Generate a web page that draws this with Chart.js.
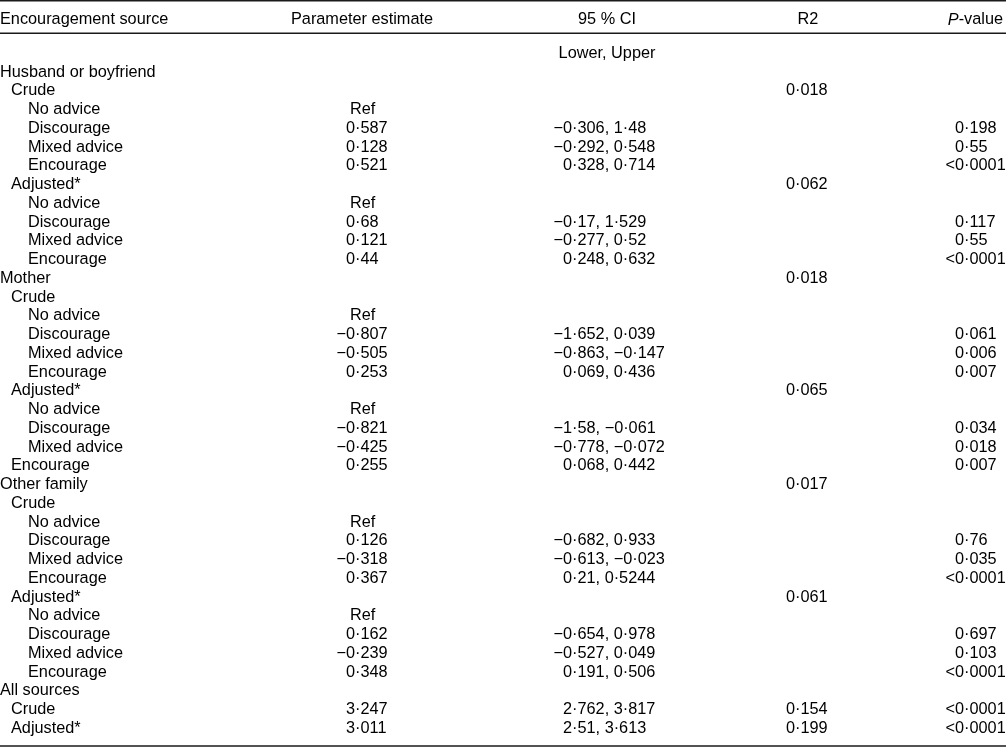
<!DOCTYPE html>
<html>
<head>
<meta charset="utf-8">
<script src="https://cdn.jsdelivr.net/npm/chart.js@4.4.1/dist/chart.umd.min.js"></script>
<style>
  html, body { margin: 0; padding: 0; background: #fff; }
  #wrap { width: 1006px; height: 747px; position: relative; }
</style>
</head>
<body>
<div id="wrap"><canvas id="table"></canvas></div>
<script>
// table content - one entry per row (row 0 of the y scale is the "Lower, Upper" sub-header)
const rowLabels = [
  'Husband or boyfriend', 'Crude', 'No advice', 'Discourage', 'Mixed advice', 'Encourage',
  'Adjusted*', 'No advice', 'Discourage', 'Mixed advice', 'Encourage',
  'Mother', 'Crude', 'No advice', 'Discourage', 'Mixed advice', 'Encourage',
  'Adjusted*', 'No advice', 'Discourage', 'Mixed advice', 'Encourage',
  'Other family', 'Crude', 'No advice', 'Discourage', 'Mixed advice', 'Encourage',
  'Adjusted*', 'No advice', 'Discourage', 'Mixed advice', 'Encourage',
  'All sources', 'Crude', 'Adjusted*'
];
const rowLevels = [0, 1, 2, 2, 2, 2, 1, 2, 2, 2, 2, 0, 1, 2, 2, 2, 2, 1, 2, 2, 2, 1, 0, 1, 2, 2, 2, 2, 1, 2, 2, 2, 2, 0, 1, 1];
const estimates = [
  null, null, 'Ref', 0.587, 0.128, 0.521,
  null, 'Ref', 0.68, 0.121, 0.44,
  null, null, 'Ref', -0.807, -0.505, 0.253,
  null, 'Ref', -0.821, -0.425, 0.255,
  null, null, 'Ref', 0.126, -0.318, 0.367,
  null, 'Ref', 0.162, -0.239, 0.348,
  null, 3.247, 3.011
];
const ciLower = [
  null, null, null, -0.306, -0.292, 0.328,
  null, null, -0.17, -0.277, 0.248,
  null, null, null, -1.652, -0.863, 0.069,
  null, null, -1.58, -0.778, 0.068,
  null, null, null, -0.682, -0.613, 0.21,
  null, null, -0.654, -0.527, 0.191,
  null, 2.762, 2.51
];
const ciUpper = [
  null, null, null, 1.48, 0.548, 0.714,
  null, null, 1.529, 0.52, 0.632,
  null, null, null, 0.039, -0.147, 0.436,
  null, null, -0.061, -0.072, 0.442,
  null, null, null, 0.933, -0.023, 0.5244,
  null, null, 0.978, 0.049, 0.506,
  null, 3.817, 3.613
];
const r2Values = [
  null, 0.018, null, null, null, null,
  0.062, null, null, null, null,
  0.018, null, null, null, null, null,
  0.065, null, null, null, null,
  0.017, null, null, null, null, null,
  0.061, null, null, null, null,
  null, 0.154, 0.199
];
const pValues = [
  null, null, null, 0.198, 0.55, '<0.0001',
  null, null, 0.117, 0.55, '<0.0001',
  null, null, null, 0.061, 0.006, 0.007,
  null, null, 0.034, 0.018, 0.007,
  null, null, null, 0.76, 0.035, '<0.0001',
  null, null, 0.697, 0.103, '<0.0001',
  null, '<0.0001', '<0.0001'
];
const headers = ['Encouragement source', 'Parameter estimate', '95 % CI', 'R2', 'P-value'];
const ciSubHeader = 'Lower, Upper';

// layout (x in pixels of the linear x scale, y in row units)
const colX = { label: 0, estimate: 346, ci: 563, r2: 786, p: 955 };
const indent = [0, 11, 28];
const headerX = [0, 362, 607, 808, 1003];
const headerAlign = ['left', 'center', 'center', 'center', 'right'];
const headerRow = -1.787;
const ruleRows = [-2.811, -1.083, 36.933];
const font = '16.3px "Liberation Sans", Arial, sans-serif';
const textColor = '#000';

// 0.587 -> 0·587, -0.306 -> −0·306
function fmt(v) {
  if (v == null) return null;
  return String(v).replace('-', '\u2212').replace('.', '\u00b7');
}

function column(values, x, toText) {
  const pts = [];
  values.forEach((v, i) => {
    const t = toText(v, i);
    if (t) pts.push({ x: typeof x === 'function' ? x(i) : x, y: i + 1, text: t });
  });
  return pts;
}

const datasets = [
  { label: 'source', align: 'left', data: column(rowLabels, i => colX.label + indent[rowLevels[i]], v => v) },
  { label: 'estimate', align: 'hang', data: column(estimates, colX.estimate, v => fmt(v)) },
  { label: 'ci', align: 'hang', data: column(ciLower, colX.ci, (v, i) => v == null ? null : fmt(v) + ', ' + fmt(ciUpper[i])) },
  { label: 'r2', align: 'left', data: column(r2Values, colX.r2, v => fmt(v)) },
  { label: 'p', align: 'hang', data: column(pValues, colX.p, v => fmt(v)) }
].map(ds => Object.assign(ds, { pointRadius: 0, pointHoverRadius: 0, showLine: false }));

// draws the cell texts on top of the (invisible) points
const tableText = {
  id: 'tableText',
  afterDatasetsDraw(chart) {
    const ctx = chart.ctx;
    const xs = chart.scales.x, ys = chart.scales.y;
    ctx.save();
    ctx.fillStyle = textColor;
    ctx.textBaseline = 'middle';
    ctx.font = font;

    chart.data.datasets.forEach((ds, i) => {
      const meta = chart.getDatasetMeta(i);
      meta.data.forEach((pt, j) => {
        let t = ds.data[j].text;
        let x = pt.x;
        if (t === 'Ref') x += 4;
        if (ds.align === 'hang' && (t[0] === '\u2212' || t[0] === '<')) {
          ctx.textAlign = 'right';
          ctx.fillText(t[0], x, pt.y);
          t = t.slice(1);
        }
        ctx.textAlign = 'left';
        ctx.fillText(t, x, pt.y);
      });
    });

    // header row
    const hy = ys.getPixelForValue(headerRow);
    headers.forEach((h, i) => {
      const x = xs.getPixelForValue(headerX[i]);
      if (h === 'P-value') {
        ctx.font = 'italic ' + font;
        const w1 = ctx.measureText('P').width;
        ctx.font = font;
        const w2 = ctx.measureText('-value').width;
        ctx.textAlign = 'left';
        ctx.font = 'italic ' + font;
        ctx.fillText('P', x - w1 - w2, hy);
        ctx.font = font;
        ctx.fillText('-value', x - w2, hy);
        return;
      }
      ctx.textAlign = headerAlign[i];
      ctx.fillText(h, x, hy);
    });
    ctx.textAlign = 'center';
    ctx.fillText(ciSubHeader, xs.getPixelForValue(headerX[2]), ys.getPixelForValue(0));

    // horizontal rules
    ctx.strokeStyle = '#1a1a1a';
    ctx.lineWidth = 1.5;
    ruleRows.forEach(r => {
      const y = ys.getPixelForValue(r);
      ctx.beginPath();
      ctx.moveTo(chart.chartArea.left, y);
      ctx.lineTo(chart.chartArea.right, y);
      ctx.stroke();
    });
    ctx.restore();
  }
};

new Chart(document.getElementById('table').getContext('2d'), {
  type: 'scatter',
  data: { datasets: datasets },
  options: {
    responsive: true,
    maintainAspectRatio: false,
    animation: false,
    events: [],
    layout: { padding: 0 },
    plugins: {
      legend: { display: false },
      tooltip: { enabled: false }
    },
    scales: {
      x: { type: 'linear', display: false, min: 0, max: 1006 },
      y: { type: 'linear', display: false, min: -2.853, max: 36.987, reverse: true }
    }
  },
  plugins: [tableText]
});
</script>
</body>
</html>
